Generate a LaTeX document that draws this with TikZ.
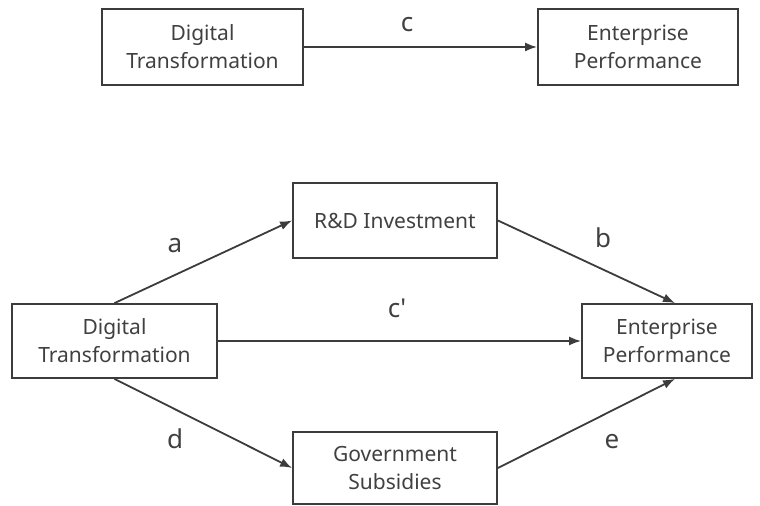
\documentclass[tikz,border=0pt]{standalone}
\usepackage{fontspec}
\setmainfont{Noto Sans}
\usetikzlibrary{arrows.meta}
\usetikzlibrary{positioning, calc}
\definecolor{linegray}{HTML}{3C3C3C}
\definecolor{textgray}{HTML}{404040}
\tikzset{
	varbox/.style = {
		draw=linegray,
		line width=0.9pt,
		rectangle,
		align=center,
		text=textgray,
		inner sep=0mm,
		font=\fontsize{10.5}{14}\selectfont
	},
	link/.style = {
		draw=linegray,
		line width=0.9pt,
		->
	},
	coef/.style = {
		text=textgray,
		inner sep=0mm,
		anchor=base,
		font=\fontsize{13}{15}\selectfont
	}
}

\begin{document}
\begin{tikzpicture}[
		x=0.5pt, y=-0.5pt,
		>={Latex[length=6pt,width=4.5pt]},
	]

	% The canvas, in pixels of the reference
	\useasboundingbox (0,0) rectangle (760,506);

	% Total effect
	\node (dt1) [varbox, minimum width=100.5pt, minimum height=38pt] at (202.5,47) {Digital\\Transformation};
	\node (ep1) [varbox, minimum width=100pt, minimum height=38pt] at (638,47) {Enterprise\\Performance};

	\draw[link] (dt1) -- (ep1);
	\node (lc) [coef] at (407,32) {c};

	% Mediation model
	\node (rd) [varbox, minimum width=102pt, minimum height=37.5pt] at (395,220.5) {R\&D Investment};
	\node (dt2) [varbox, minimum width=102.5pt, minimum height=37pt] at (114.5,341) {Digital\\Transformation};
	\node (ep2) [varbox, minimum width=85pt, minimum height=37pt] at (667,341) {Enterprise\\Performance};
	\node (gs) [varbox, minimum width=102pt, minimum height=36pt] at (395,468) {Government\\Subsidies};

	\draw[link] (dt2.north) -- (rd.west);
	\draw[link] (rd.east) -- ([xshift=4pt]ep2.north);
	\draw[link] (dt2) -- (ep2);
	\draw[link] (dt2.south) -- (gs.west);
	\draw[link] (gs.east) -- ([xshift=4pt]ep2.south);

	\node (la) [coef] at (175,253) {a};
	\node (lb) [coef] at (603,248) {b};
	\node (lcp) [coef] at (397,318) {c\textquotesingle};
	\node (ld) [coef] at (175,449) {d};
	\node (le) [coef] at (612,449) {e};

\end{tikzpicture}
\end{document}
